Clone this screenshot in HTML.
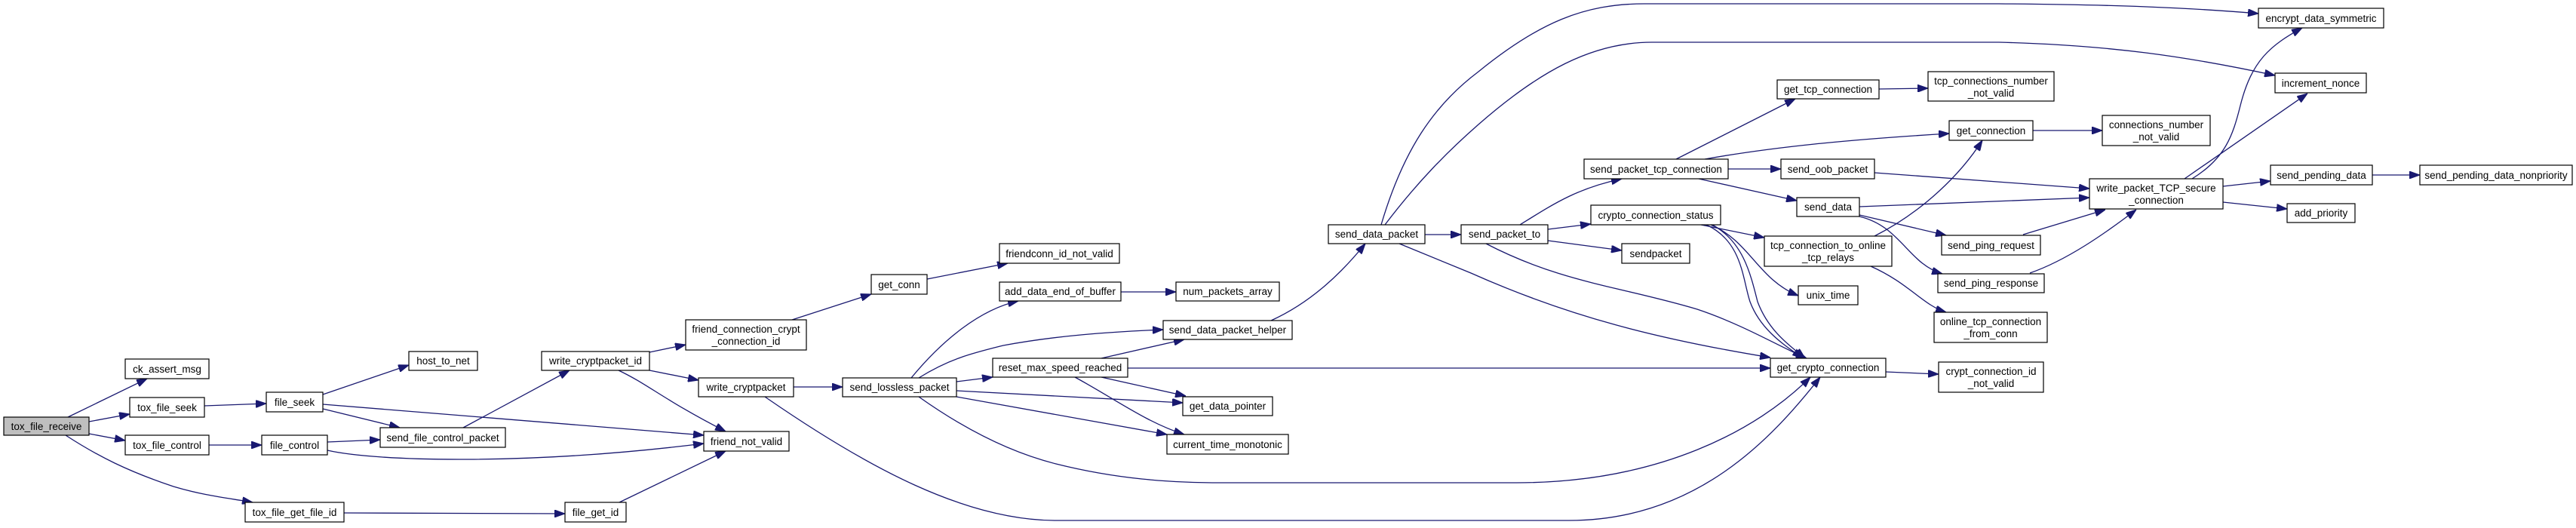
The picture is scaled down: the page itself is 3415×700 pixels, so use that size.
<!DOCTYPE html>
<html><head><meta charset="utf-8"><style>
html,body{margin:0;padding:0;background:#fff;}
svg{display:block;}
text{font-family:"Liberation Sans",sans-serif;font-size:13.5px;fill:#000;}
.b{fill:#fff;stroke:#000;stroke-width:1.2;}
.e{fill:none;stroke:#191970;stroke-width:1.3;marker-end:url(#a);}
</style></head><body>
<svg width="3415" height="700" viewBox="0 0 3415 700" xmlns="http://www.w3.org/2000/svg">
<defs><marker id="a" markerUnits="userSpaceOnUse" markerWidth="14" markerHeight="10" refX="14" refY="5" orient="auto"><path d="M0,0 L14,5 L0,10 z" fill="#191970" stroke="#191970"/></marker></defs>
<g>
<path class="e" d="M90,553 L195,502"/>
<path class="e" d="M118,559 L172,549"/>
<path class="e" d="M118,575 L166,584"/>
<path class="e" d="M87,577 C130,605 170,625 230,645 C270,657 300,660 335,666"/>
<path class="e" d="M271,538 L353,535"/>
<path class="e" d="M277,590 L347,590"/>
<path class="e" d="M428,523 L542,484"/>
<path class="e" d="M428,542 L530,567"/>
<path class="e" d="M428,536 L933,577"/>
<path class="e" d="M434,586 L504,583"/>
<path class="e" d="M434,597 C500,612 700,617 933,588"/>
<path class="e" d="M614,567 L755,491"/>
<path class="e" d="M456,680 L749,681"/>
<path class="e" d="M821,666 L962,598"/>
<path class="e" d="M861,467 L909,457"/>
<path class="e" d="M861,491 L926,504"/>
<path class="e" d="M820,491 C860,510 880,530 962,572"/>
<path class="e" d="M1050,424 L1155,390"/>
<path class="e" d="M1229,370 L1336,349"/>
<path class="e" d="M1052,513 L1117,513"/>
<path class="e" d="M1014,526 C1150,620 1280,690 1400,690 L2080,690 C2250,690 2350,580 2413,500"/>
<path class="e" d="M1218,526 C1280,570 1340,600 1400,615 C1480,635 1550,640 1620,640 L2010,640 C2200,640 2330,570 2400,500"/>
<path class="e" d="M1208,501 C1250,450 1300,410 1350,399"/>
<path class="e" d="M1218,501 C1260,475 1290,468 1330,458 C1400,445 1470,440 1542,437"/>
<path class="e" d="M1268,506 L1316,500"/>
<path class="e" d="M1268,518 L1568,534"/>
<path class="e" d="M1268,526 L1547,576"/>
<path class="e" d="M1486,387 L1559,387"/>
<path class="e" d="M1460,475 L1570,450"/>
<path class="e" d="M1460,500 L1572,525"/>
<path class="e" d="M1425,500 C1480,530 1520,560 1570,576"/>
<path class="e" d="M1495,488 L2347,488"/>
<path class="e" d="M1685,425 C1740,400 1780,360 1810,323"/>
<path class="e" d="M1889,311 L1937,311"/>
<path class="e" d="M1831,298 C1860,200 1900,140 1960,95 C2040,30 2100,5 2180,5 L2650,5 C2800,6 2900,10 2994,18"/>
<path class="e" d="M1836,298 C1880,240 1920,200 1960,165 C2040,95 2110,56 2190,56 L2650,56 C2800,60 2900,75 3016,100"/>
<path class="e" d="M1855,323 L1950,362 C2080,420 2200,450 2347,474"/>
<path class="e" d="M2015,298 C2060,270 2090,250 2150,237"/>
<path class="e" d="M2052,304 L2109,297"/>
<path class="e" d="M2052,319 L2150,332"/>
<path class="e" d="M1970,323 C2070,375 2150,380 2250,410 C2310,430 2360,460 2395,475"/>
<path class="e" d="M2222,211 L2380,131"/>
<path class="e" d="M2260,211 C2350,195 2450,185 2584,177"/>
<path class="e" d="M2291,224 L2361,224"/>
<path class="e" d="M2252,237 L2382,266"/>
<path class="e" d="M2255,298 L2339,315"/>
<path class="e" d="M2268,298 C2320,320 2330,370 2384,392"/>
<path class="e" d="M2262,298 C2310,320 2310,370 2320,400 C2335,440 2370,460 2390,475"/>
<path class="e" d="M2270,298 C2310,320 2320,360 2330,400 C2345,440 2375,460 2393,475"/>
<path class="e" d="M2491,118 L2556,117"/>
<path class="e" d="M2485,313 C2550,280 2600,230 2628,186"/>
<path class="e" d="M2480,353 C2530,375 2550,405 2580,414"/>
<path class="e" d="M2695,173 L2787,173"/>
<path class="e" d="M2485,229 L2770,250"/>
<path class="e" d="M2465,274 L2770,262"/>
<path class="e" d="M2465,285 L2580,312"/>
<path class="e" d="M2465,287 C2520,300 2530,350 2575,363"/>
<path class="e" d="M2682,311 L2791,278"/>
<path class="e" d="M2691,362 C2740,345 2790,310 2832,278"/>
<path class="e" d="M2500,493 L2570,496"/>
<path class="e" d="M2906,237 C2950,210 2960,180 2970,140 C2985,80 3010,60 3052,37"/>
<path class="e" d="M2896,237 L3059,124"/>
<path class="e" d="M2947,247 L3010,240"/>
<path class="e" d="M2947,268 L3032,277"/>
<path class="e" d="M3145,232 L3208,232"/>
</g>
<g>
<rect x="5" y="553" width="113" height="24" fill="#bfbfbf" stroke="#000" stroke-width="1.2"/><text x="61.5" y="570" text-anchor="middle">tox_file_receive</text>
<rect class="b" x="166" y="476" width="111" height="26"/><text x="221.5" y="494" text-anchor="middle">ck_assert_msg</text>
<rect class="b" x="172" y="527" width="99" height="26"/><text x="221.5" y="545" text-anchor="middle">tox_file_seek</text>
<rect class="b" x="166" y="577" width="111" height="26"/><text x="221.5" y="595" text-anchor="middle">tox_file_control</text>
<rect class="b" x="325" y="666" width="131" height="26"/><text x="390.5" y="684" text-anchor="middle">tox_file_get_file_id</text>
<rect class="b" x="353" y="520" width="75" height="26"/><text x="390.5" y="538" text-anchor="middle">file_seek</text>
<rect class="b" x="347" y="577" width="87" height="26"/><text x="390.5" y="595" text-anchor="middle">file_control</text>
<rect class="b" x="542" y="466" width="91" height="25"/><text x="587.5" y="483" text-anchor="middle">host_to_net</text>
<rect class="b" x="504" y="567" width="166" height="26"/><text x="587" y="585" text-anchor="middle">send_file_control_packet</text>
<rect class="b" x="718" y="466" width="143" height="25"/><text x="789.5" y="483" text-anchor="middle">write_cryptpacket_id</text>
<rect class="b" x="749" y="666" width="81" height="26"/><text x="789.5" y="684" text-anchor="middle">file_get_id</text>
<rect class="b" x="933" y="572" width="113" height="26"/><text x="989.5" y="590" text-anchor="middle">friend_not_valid</text>
<rect class="b" x="909" y="424" width="160" height="40"/><text x="989" y="441" text-anchor="middle">friend_connection_crypt</text><text x="989" y="457" text-anchor="middle">_connection_id</text>
<rect class="b" x="1155" y="364" width="74" height="26"/><text x="1192" y="382" text-anchor="middle">get_conn</text>
<rect class="b" x="926" y="501" width="126" height="25"/><text x="989" y="518" text-anchor="middle">write_cryptpacket</text>
<rect class="b" x="1117" y="501" width="151" height="25"/><text x="1192.5" y="518" text-anchor="middle">send_lossless_packet</text>
<rect class="b" x="1325" y="323" width="159" height="26"/><text x="1404.5" y="341" text-anchor="middle">friendconn_id_not_valid</text>
<rect class="b" x="1325" y="374" width="161" height="25"/><text x="1405.5" y="391" text-anchor="middle">add_data_end_of_buffer</text>
<rect class="b" x="1559" y="374" width="137" height="25"/><text x="1627.5" y="391" text-anchor="middle">num_packets_array</text>
<rect class="b" x="1542" y="425" width="171" height="25"/><text x="1627.5" y="442" text-anchor="middle">send_data_packet_helper</text>
<rect class="b" x="1316" y="475" width="179" height="25"/><text x="1405.5" y="492" text-anchor="middle">reset_max_speed_reached</text>
<rect class="b" x="1568" y="526" width="119" height="25"/><text x="1627.5" y="543" text-anchor="middle">get_data_pointer</text>
<rect class="b" x="1547" y="576" width="161" height="26"/><text x="1627.5" y="594" text-anchor="middle">current_time_monotonic</text>
<rect class="b" x="1761" y="298" width="128" height="25"/><text x="1825" y="315" text-anchor="middle">send_data_packet</text>
<rect class="b" x="1937" y="298" width="115" height="25"/><text x="1994.5" y="315" text-anchor="middle">send_packet_to</text>
<rect class="b" x="2100" y="211" width="191" height="26"/><text x="2195.5" y="229" text-anchor="middle">send_packet_tcp_connection</text>
<rect class="b" x="2109" y="272" width="172" height="26"/><text x="2195" y="290" text-anchor="middle">crypto_connection_status</text>
<rect class="b" x="2150" y="323" width="90" height="26"/><text x="2195" y="341" text-anchor="middle">sendpacket</text>
<rect class="b" x="2356" y="106" width="135" height="25"/><text x="2423.5" y="123" text-anchor="middle">get_tcp_connection</text>
<rect class="b" x="2361" y="211" width="124" height="26"/><text x="2423" y="229" text-anchor="middle">send_oob_packet</text>
<rect class="b" x="2382" y="262" width="83" height="25"/><text x="2423.5" y="279" text-anchor="middle">send_data</text>
<rect class="b" x="2339" y="313" width="169" height="40"/><text x="2423.5" y="330" text-anchor="middle">tcp_connection_to_online</text><text x="2423.5" y="346" text-anchor="middle">_tcp_relays</text>
<rect class="b" x="2384" y="379" width="79" height="25"/><text x="2423.5" y="396" text-anchor="middle">unix_time</text>
<rect class="b" x="2347" y="475" width="153" height="25"/><text x="2423.5" y="492" text-anchor="middle">get_crypto_connection</text>
<rect class="b" x="2556" y="95" width="167" height="39"/><text x="2639.5" y="112" text-anchor="middle">tcp_connections_number</text><text x="2639.5" y="128" text-anchor="middle">_not_valid</text>
<rect class="b" x="2584" y="160" width="111" height="26"/><text x="2639.5" y="178" text-anchor="middle">get_connection</text>
<rect class="b" x="2574" y="312" width="131" height="26"/><text x="2639.5" y="330" text-anchor="middle">send_ping_request</text>
<rect class="b" x="2569" y="363" width="141" height="25"/><text x="2639.5" y="380" text-anchor="middle">send_ping_response</text>
<rect class="b" x="2564" y="414" width="150" height="40"/><text x="2639" y="431" text-anchor="middle">online_tcp_connection</text><text x="2639" y="447" text-anchor="middle">_from_conn</text>
<rect class="b" x="2570" y="480" width="139" height="40"/><text x="2639.5" y="497" text-anchor="middle">crypt_connection_id</text><text x="2639.5" y="513" text-anchor="middle">_not_valid</text>
<rect class="b" x="2787" y="153" width="143" height="40"/><text x="2858.5" y="170" text-anchor="middle">connections_number</text><text x="2858.5" y="186" text-anchor="middle">_not_valid</text>
<rect class="b" x="2770" y="237" width="177" height="40"/><text x="2858.5" y="254" text-anchor="middle">write_packet_TCP_secure</text><text x="2858.5" y="270" text-anchor="middle">_connection</text>
<rect class="b" x="2994" y="11" width="166" height="26"/><text x="3077" y="29" text-anchor="middle">encrypt_data_symmetric</text>
<rect class="b" x="3016" y="97" width="121" height="26"/><text x="3076.5" y="115" text-anchor="middle">increment_nonce</text>
<rect class="b" x="3010" y="219" width="135" height="26"/><text x="3077.5" y="237" text-anchor="middle">send_pending_data</text>
<rect class="b" x="3208" y="219" width="202" height="26"/><text x="3309" y="237" text-anchor="middle">send_pending_data_nonpriority</text>
<rect class="b" x="3032" y="270" width="90" height="25"/><text x="3077" y="287" text-anchor="middle">add_priority</text>
</g>
</svg>
</body></html>
